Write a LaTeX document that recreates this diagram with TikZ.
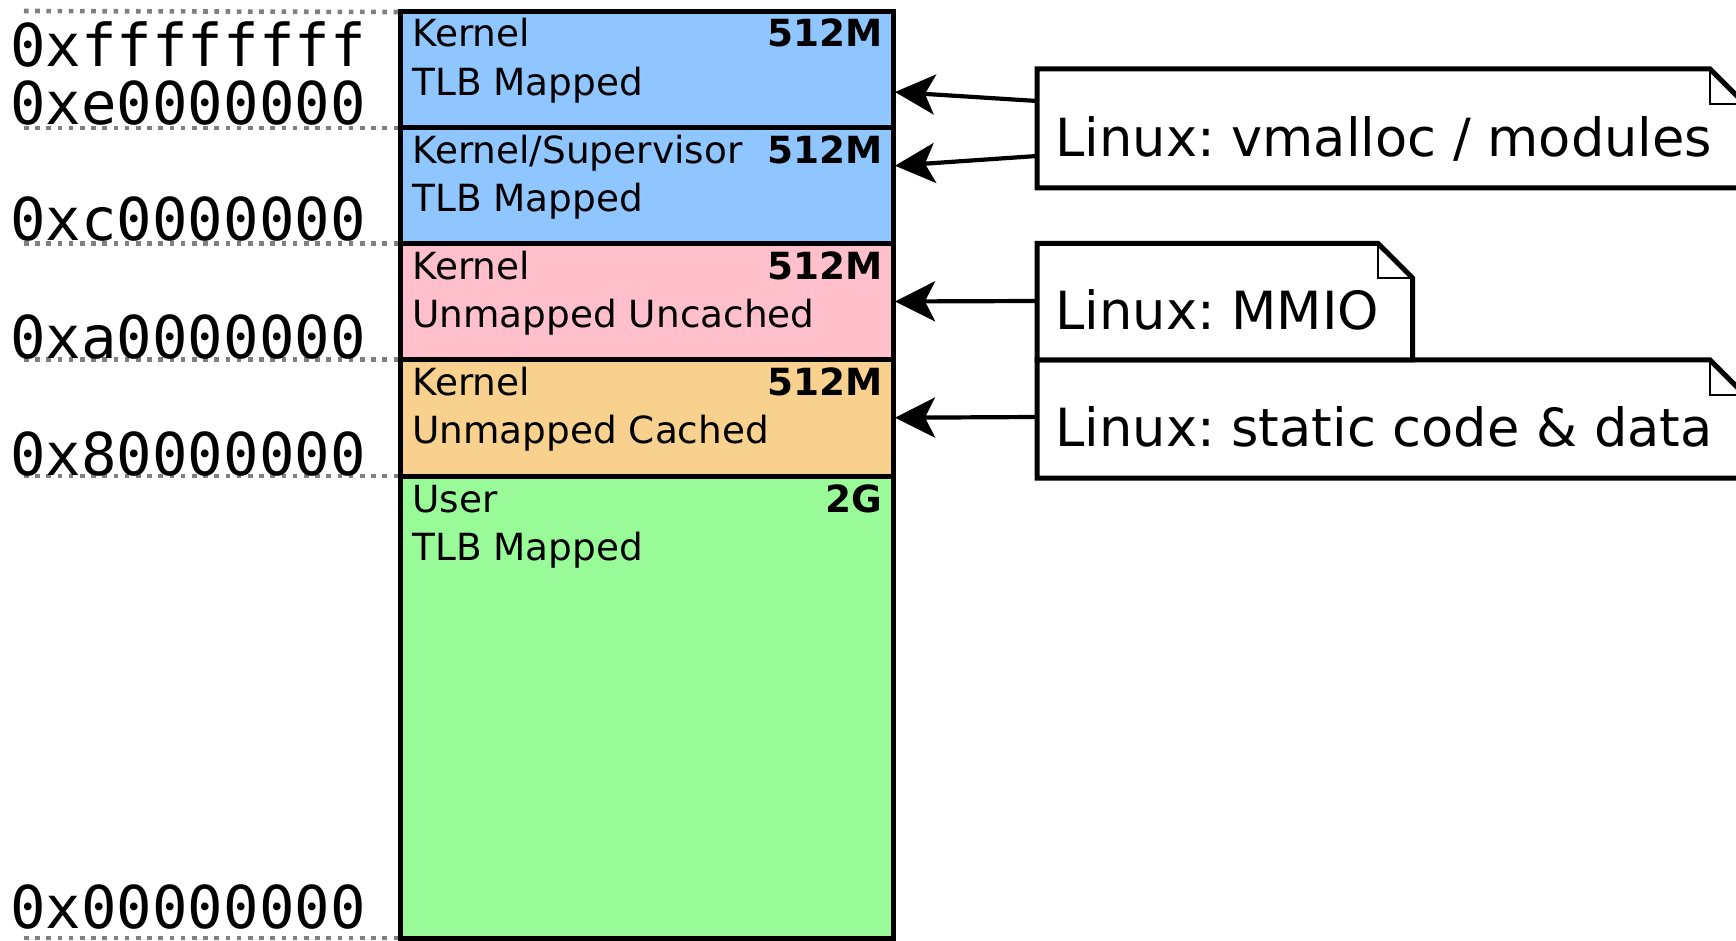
\documentclass[tikz,border=0pt]{standalone}
\usepackage{fontspec}
\setmainfont{DejaVu Sans}
\newfontfamily\addrfont{DejaVu Sans Mono}
\usetikzlibrary{arrows.meta}

\definecolor{tlbblue}{RGB}{143,198,255}
\definecolor{uncpink}{RGB}{255,192,203}
\definecolor{cachorange}{RGB}{248,209,143}
\definecolor{usergreen}{RGB}{152,251,152}
\definecolor{boundgray}{RGB}{128,128,128}

\tikzset{
  seg/.style={draw, line width=2.5pt, rectangle, anchor=north west, inner sep=0pt, outer sep=0pt, minimum width=246.5pt},
  segtext/.style={anchor=base west, inner sep=0pt, font=\fontsize{18.7}{22}\selectfont},
  segsize/.style={anchor=base east, inner sep=0pt, font=\fontsize{18.7}{22}\selectfont\bfseries},
  addr/.style={anchor=base west, inner sep=0pt, font=\addrfont\fontsize{29.5}{34}\selectfont},
  bound/.style={boundgray, line width=2.3pt, dash pattern=on 2.3pt off 3.3pt},
  note/.style={draw, line width=2.5pt, fill=white, line join=miter},
  notefold/.style={line width=1pt},
  notetext/.style={anchor=base west, inner sep=0pt, font=\fontsize{26.3}{30}\selectfont},
  pointer/.style={line width=2.1pt, -{Stealth[length=20pt, width=20pt, inset=5pt]}}
}

\begin{document}
\frenchspacing
\begin{tikzpicture}[x=0.5pt,y=-0.5pt]
 \useasboundingbox (0,0) rectangle (1736,941);
 \fill[white] (0,0) rectangle (1736,941);
 \clip (0,0) rectangle (1736,941);

 % address map
 \node[seg, fill=tlbblue, minimum height=58pt] (kseg3) at (400,12) {};
 \node[seg, fill=tlbblue, minimum height=57.75pt] (ksseg) at (kseg3.south west) {};
 \node[seg, fill=uncpink, minimum height=58pt] (kseg1) at (ksseg.south west) {};
 \node[seg, fill=cachorange, minimum height=58.25pt] (kseg0) at (kseg1.south west) {};
 \node[seg, fill=usergreen, minimum height=231pt] (useg) at (kseg0.south west) {};

 \node[segtext] (kseg3name) at ([shift={(12,35)}]kseg3.north west) {Kernel};
 \node[segtext] (kseg3map) at ([shift={(12,84)}]kseg3.north west) {TLB Mapped};
 \node[segsize] (kseg3size) at ([shift={(-10,35)}]kseg3.north east) {512M};
 \node[segtext] (kssegname) at ([shift={(12,36)}]ksseg.north west) {Kernel/Supervisor};
 \node[segtext] (kssegmap) at ([shift={(12,84)}]ksseg.north west) {TLB Mapped};
 \node[segsize] (kssegsize) at ([shift={(-10,36)}]ksseg.north east) {512M};
 \node[segtext] (kseg1name) at ([shift={(12,36)}]kseg1.north west) {Kernel};
 \node[segtext] (kseg1map) at ([shift={(12,84)}]kseg1.north west) {Unmapped Uncached};
 \node[segsize] (kseg1size) at ([shift={(-10,36)}]kseg1.north east) {512M};
 \node[segtext] (kseg0name) at ([shift={(12,36)}]kseg0.north west) {Kernel};
 \node[segtext] (kseg0map) at ([shift={(12,84)}]kseg0.north west) {Unmapped Cached};
 \node[segsize] (kseg0size) at ([shift={(-10,36)}]kseg0.north east) {512M};
 \node[segtext] (usegname) at ([shift={(12,36)}]useg.north west) {User};
 \node[segtext] (usegmap) at ([shift={(12,84)}]useg.north west) {TLB Mapped};
 \node[segsize] (usegsize) at ([shift={(-10,36)}]useg.north east) {2G};

 % boundaries
 \draw[bound] (24,11) -- ([xshift=-1pt]kseg3.north west);
 \draw[bound] (24,128) -- ([xshift=-1pt]ksseg.north west);
 \draw[bound] (24,243.5) -- ([xshift=-1pt]kseg1.north west);
 \draw[bound] (24,359.5) -- ([xshift=-1pt]kseg0.north west);
 \draw[bound] (24,476) -- ([xshift=-1pt]useg.north west);
 \draw[bound] (24,938) -- ([xshift=-1pt]useg.south west);

 \node[addr] (top) at (10,67) {0xffffffff};
 \node[addr] (bnde) at (10,125) {0xe0000000};
 \node[addr] (bndc) at (10,241) {0xc0000000};
 \node[addr] (bnda) at (10,358) {0xa0000000};
 \node[addr] (bnd8) at (10,475) {0x80000000};
 \node[addr] (bottom) at (10,928) {0x00000000};

 % linux notes
 \draw[note] (1037,69) -- (1710,69) -- (1745,104) -- (1745,188) -- (1037,188) -- cycle;
 \draw[notefold] (1710,69) -- (1710,104) -- (1745,104);
 \draw[note] (1037,360) -- (1710,360) -- (1745,395) -- (1745,478) -- (1037,478) -- cycle;
 \draw[notefold] (1710,360) -- (1710,395) -- (1745,395);
 \draw[note] (1037,243.5) -- (1378,243.5) -- (1412.6,278) -- (1412.6,360) -- (1037,360) -- cycle;
 \draw[notefold] (1378,243.5) -- (1378,278) -- (1412.6,278);

 \node[notetext] (vmtext) at (1055,157) {Linux: vmalloc / modules};
 \node[notetext] (mmiotext) at (1055,330) {Linux: MMIO};
 \node[notetext] (codetext) at (1055,446) {Linux: static code \& data};

 \coordinate (vmfrom1) at (1037,101);
 \coordinate (vmfrom2) at (1037,156);
 \coordinate (mmiofrom) at (1037,301);
 \coordinate (codefrom) at (1037,417);
 \draw[pointer] (vmfrom1) -- ([shift={(2,22)}]kseg3.east);
 \draw[pointer] (vmfrom2) -- ([shift={(2,-20)}]ksseg.east);
 \draw[pointer] (mmiofrom) -- ([xshift=1pt]kseg1.east);
 \draw[pointer] (codefrom) -- ([xshift=1pt]kseg0.east);
\end{tikzpicture}
\end{document}
